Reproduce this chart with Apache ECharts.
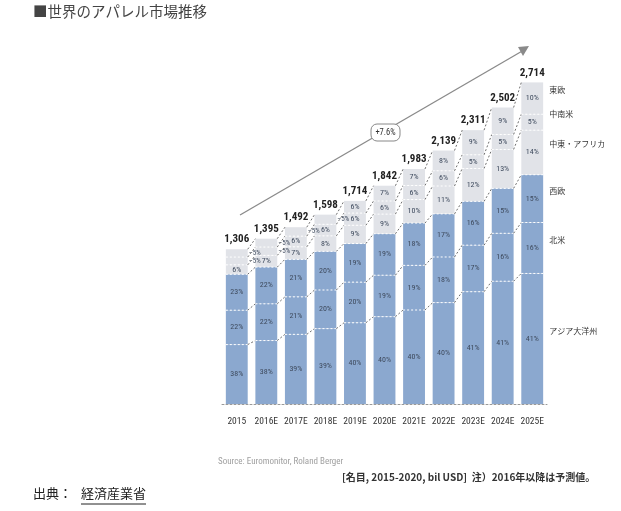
<!DOCTYPE html>
<html>
<head>
<meta charset="utf-8">
<script src="https://cdn.jsdelivr.net/npm/echarts@6/dist/echarts.min.js"></script>
<style>
  html, body { margin: 0; padding: 0; background: #fff; }
  #chart { width: 621px; height: 511px; }
</style>
</head>
<body>
<div id="chart"></div>
<script>
// 世界のアパレル市場推移 (bil USD)
var years = ['2015', '2016E', '2017E', '2018E', '2019E', '2020E', '2021E', '2022E', '2023E', '2024E', '2025E'];
var totals = [1306, 1395, 1492, 1598, 1714, 1842, 1983, 2139, 2311, 2502, 2714];
var regions = ['アジア大洋州', '北米', '西欧', '中東・アフリカ', '中南米', '東欧'];

// share of each region, %, bottom to top
var pctAsia     = [38, 38, 39, 39, 40, 40, 40, 40, 41, 41, 41];
var pctNorthAm  = [22, 22, 21, 20, 20, 19, 19, 18, 17, 16, 16];
var pctWestEu   = [23, 22, 21, 20, 19, 19, 18, 17, 16, 15, 15];
var pctMidEast  = [6, 7, 7, 8, 9, 9, 10, 11, 12, 13, 14];
var pctLatAm    = [5, 5, 6, 6, 6, 6, 6, 6, 5, 5, 5];
var pctEastEu   = [5, 5, 5, 5, 6, 7, 7, 8, 9, 9, 10];

var shares = [pctAsia, pctNorthAm, pctWestEu, pctMidEast, pctLatAm, pctEastEu];
var colors = ['#8ba8cf', '#8ba8cf', '#8ba8cf', '#e1e3e8', '#e1e3e8', '#e1e3e8'];

var NUM_FONT = "'Liberation Sans Narrow', 'Roboto Condensed', 'Liberation Sans', sans-serif";
var JP_FONT = "'Noto Sans CJK JP', sans-serif";

// segment values: each year's total split by the read shares
var segValues = shares.map(function (arr) {
    return arr.map(function (p, i) {
        var sum = 0;
        shares.forEach(function (a) { sum += a[i]; });
        return totals[i] * p / sum;
    });
});

// cumulative boundary for bar i, after k segments
function cum(i, k) {
    var s = 0;
    for (var j = 0; j < k; j++) s += segValues[j][i];
    return s;
}

var barSeries = regions.map(function (name, k) {
    return {
        name: name,
        type: 'bar',
        stack: 'total',
        barWidth: '74%',
        itemStyle: { color: colors[k] },
        data: segValues[k].map(function (v, i) {
            // thin 5% slices of the early bars are labelled beside the bar
            var small = shares[k][i] <= 5 && v < 85;
            return {
                value: v,
                label: {
                    show: true,
                    position: small ? 'right' : 'inside',
                    distance: 1,
                    formatter: (small ? '–' : '') + shares[k][i] + '%',
                    fontSize: small ? 7 : 8,
                    fontFamily: NUM_FONT,
                    color: '#3f4b5e'
                }
            };
        })
    };
});

var overlay = {
    type: 'custom',
    silent: true,
    clip: false,
    z: 5,
    data: years.map(function (y, i) { return [i, totals[i]]; }),
    renderItem: function (params, api) {
        var i = api.value(0);
        var bw = api.size([1, 0])[0] * 0.74;
        var children = [];
        var top = api.coord([i, totals[i]]);
        // white dashed separators inside the bar
        for (var k = 1; k < regions.length; k++) {
            var p = api.coord([i, cum(i, k)]);
            children.push({
                type: 'line',
                shape: { x1: p[0] - bw / 2, y1: p[1], x2: p[0] + bw / 2, y2: p[1] },
                style: { stroke: '#ffffff', lineWidth: 1, lineDash: [2, 2] }
            });
        }
        // gray dashed connectors to next bar
        if (i < years.length - 1) {
            for (var k2 = 1; k2 <= regions.length; k2++) {
                var a = api.coord([i, cum(i, k2)]);
                var b = api.coord([i + 1, cum(i + 1, k2)]);
                children.push({
                    type: 'line',
                    shape: { x1: a[0] + bw / 2, y1: a[1], x2: b[0] - bw / 2, y2: b[1] },
                    style: { stroke: '#6f6f6f', lineWidth: 1, lineDash: [2, 2] }
                });
            }
        }
        // total label
        children.push({
            type: 'text',
            x: top[0],
            y: top[1] - 4,
            style: {
                text: totals[i].toLocaleString('en-US'),
                align: 'center',
                verticalAlign: 'bottom',
                fontSize: 11,
                fontWeight: 'bold',
                fontFamily: NUM_FONT,
                fill: '#222'
            }
        });
        // region names beside the last bar
        if (i === years.length - 1) {
            for (var r = 0; r < regions.length; r++) {
                var lo = api.coord([i, cum(i, r)]);
                var hi = api.coord([i, cum(i, r + 1)]);
                children.push({
                    type: 'text',
                    x: top[0] + bw / 2 + 6,
                    y: (lo[1] + hi[1]) / 2 - 8,
                    style: {
                        text: regions[r],
                        align: 'left',
                        verticalAlign: 'middle',
                        fontSize: 8,
                        fontFamily: JP_FONT,
                        fill: '#333'
                    }
                });
            }
        }
        return { type: 'group', children: children };
    }
};

var chart = echarts.init(document.getElementById('chart'), null, { renderer: 'canvas' });
chart.setOption({
    animation: false,
    backgroundColor: '#fff',
    textStyle: { fontFamily: JP_FONT },
    grid: { left: 222, right: 74, top: 48.5, bottom: 107 },
    xAxis: {
        type: 'category',
        data: years,
        axisTick: { show: false },
        axisLine: { lineStyle: { color: '#999', type: [2, 2] } },
        axisLabel: { interval: 0, fontSize: 9.5, fontFamily: NUM_FONT, color: '#333', margin: 13 }
    },
    yAxis: {
        type: 'value',
        min: 0,
        max: 3000,
        show: false
    },
    series: barSeries.concat([overlay]),
    graphic: [
        {
            type: 'text', left: 33, top: 4,
            style: { text: '■世界のアパレル市場推移', fontSize: 14.5, fontFamily: JP_FONT, fill: '#444' }
        },
        {
            type: 'line',
            shape: { x1: 240, y1: 215, x2: 524, y2: 50 },
            style: { stroke: '#8a8a8a', lineWidth: 1.3 }
        },
        {
            type: 'polygon',
            shape: { points: [[529, 46], [518, 47], [523, 56]] },
            style: { fill: '#8a8a8a' }
        },
        {
            type: 'rect',
            shape: { x: 371, y: 124, width: 29, height: 17, r: 6 },
            style: { fill: '#fff', stroke: '#888', lineWidth: 1 }
        },
        {
            type: 'text', x: 385.5, y: 132.5,
            style: { text: '+7.6%', align: 'center', verticalAlign: 'middle', fontSize: 8.5, fontFamily: NUM_FONT, fill: '#333' }
        },
        {
            type: 'text', left: 218, top: 457,
            style: { text: 'Source: Euromonitor, Roland Berger', fontSize: 9, fontFamily: NUM_FONT, fill: '#a0a0a0' }
        },
        {
            type: 'text', left: 342, top: 472,
            style: { text: '[名目, 2015-2020, bil USD]  注）2016年以降は予測値。', fontSize: 10, fontWeight: 'bold', fontFamily: JP_FONT, fill: '#333' }
        },
        {
            type: 'text', left: 33, top: 487,
            style: { text: '出典：', fontSize: 13, fontFamily: JP_FONT, fill: '#222' }
        },
        {
            type: 'text', left: 81, top: 487,
            style: { text: '経済産業省', fontSize: 13, fontFamily: JP_FONT, fill: '#222' }
        },
        {
            type: 'line',
            shape: { x1: 81, y1: 504, x2: 146, y2: 504 },
            style: { stroke: '#222', lineWidth: 1 }
        }
    ]
});
</script>
</body>
</html>
